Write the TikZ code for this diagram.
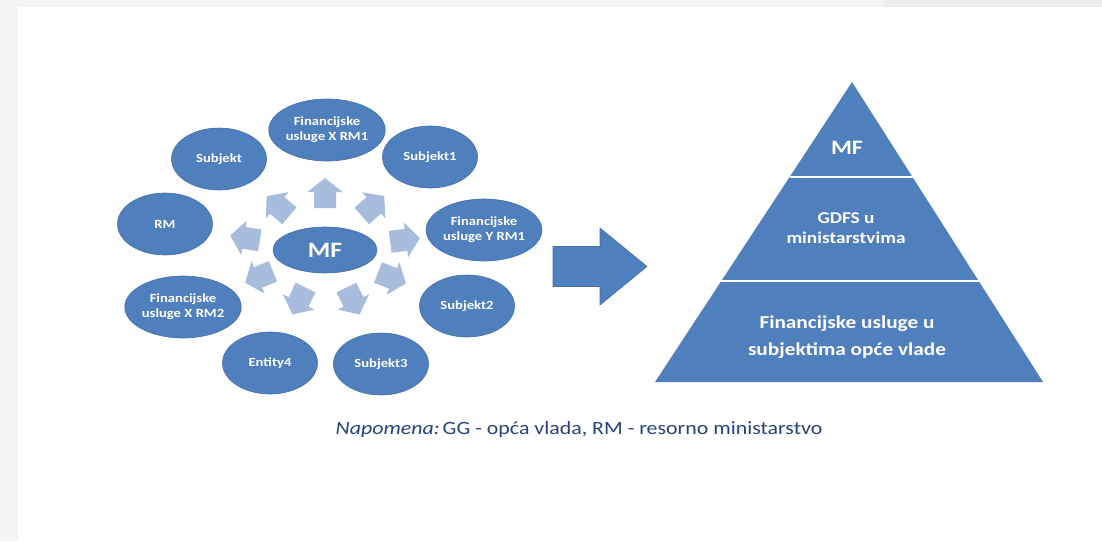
\documentclass[tikz,border=0pt]{standalone}
\usepackage{fontspec}
\setmainfont{Carlito}[FakeStretch=1.17]
\usetikzlibrary{shapes.geometric,calc}
\definecolor{ellblue}{HTML}{4F7FBD}
\definecolor{ellline}{HTML}{4470AA}
\definecolor{lightarrow}{HTML}{A8BCDD}
\definecolor{notecol}{HTML}{24437F}
\definecolor{bandgrey}{HTML}{F3F4F6}
\definecolor{bandgrey2}{HTML}{ECECEC}
\tikzset{
  outer/.style={ellipse, fill=ellblue, draw=ellline, line width=0.6pt, minimum width=95pt, minimum height=62pt, inner sep=0pt, align=center, text=white, font=\bfseries\fontsize{12.5}{15}\selectfont},
  smallarrow/.pic={\fill[lightarrow] (-15,-11) -- (1,-11) -- (1,-17.5) -- (15,0) -- (1,17.5) -- (1,11) -- (-15,11) -- cycle;},
  bigarrow/.pic={\fill[ellblue, draw=ellline, line width=0.6pt] (-47,-20) -- (0,-20) -- (0,-38.5) -- (47,0) -- (0,38.5) -- (0,20) -- (-47,20) -- cycle;},
  pyrtext/.style={text=white, align=center, font=\bfseries},
}
\begin{document}
\begin{tikzpicture}[x=1pt,y=-1pt]
\useasboundingbox (0,0) rectangle (1102,541);
\fill[white] (0,0) rectangle (1102,541);
\fill[bandgrey] (0,0) rectangle (1102,7);
\fill[bandgrey] (0,0) rectangle (18,541);
\fill[bandgrey2] (884,0) rectangle (1102,7);

% centre
\node[outer, minimum width=104pt, minimum height=46pt, font=\bfseries\fontsize{22}{24}\selectfont] (mf) at (325,250) {MF};

% outer ellipses
\node[outer] (fx1) at (327,130) {Financijske\\usluge X RM1};
\node[outer] (subj) at (219,159) {Subjekt};
\node[outer] (subj1) at (430,157) {Subjekt1};
\node[outer] (rm) at (165,224) {RM};
\node[outer] (fy1) at (484,230) {Financijske\\usluge Y RM1};
\node[outer] (fx2) at (183,307) {Financijske\\usluge X RM2};
\node[outer] (subj2) at (467,306) {Subjekt2};
\node[outer] (ent4) at (270,363) {Entity4};
\node[outer] (subj3) at (381,364) {Subjekt3};

% small arrows from MF towards each ellipse
\pic[rotate=90] (a1) at (325,193) {smallarrow};
\pic[rotate=139] (a2) at (278,206) {smallarrow};
\pic[rotate=41.5] (a3) at (373,206) {smallarrow};
\pic[rotate=7] (a4) at (405,240) {smallarrow};
\pic[rotate=171] (a5) at (245,238) {smallarrow};
\pic[rotate=-158] (a6) at (259,277) {smallarrow};
\pic[rotate=-21.5] (a7) at (392,278) {smallarrow};
\pic[rotate=-116] (a8) at (299,301) {smallarrow};
\pic[rotate=-64] (a9) at (353,301) {smallarrow};

% big arrow
\pic (big) at (600,266.5) {bigarrow};

% pyramid
\coordinate (apex) at (852,82);
\coordinate (bl) at (655,382);
\coordinate (br) at (1043,382);
\fill[ellblue] (apex) -- (bl) -- (br) -- cycle;
\coordinate (l1) at ($(apex)!0.3167!(bl)$);
\coordinate (r1) at ($(apex)!0.3167!(br)$);
\coordinate (l2) at ($(apex)!0.6633!(bl)$);
\coordinate (r2) at ($(apex)!0.6633!(br)$);
\draw[white, line width=2.5pt] (l1) -- (r1);
\draw[white, line width=2.5pt] (l2) -- (r2);

\node[pyrtext, font=\bfseries\fontsize{20.5}{24}\selectfont] (pmf) at (847,148) {MF};
\node[pyrtext, font=\bfseries\fontsize{16.5}{20}\selectfont] (pgdfs) at (846,228) {GDFS u\\ministarstvima};
\node[pyrtext, font=\bfseries\fontsize{18.2}{27}\selectfont] (pfin) at (847,337) {Financijske usluge u\\subjektima opće vlade};

% note
\node[text=notecol, font=\fontsize{18.7}{22}\selectfont] (note) at (579,430) {\textit{Napomena:}\,GG - opća vlada, RM - resorno ministarstvo};
\end{tikzpicture}
\end{document}
